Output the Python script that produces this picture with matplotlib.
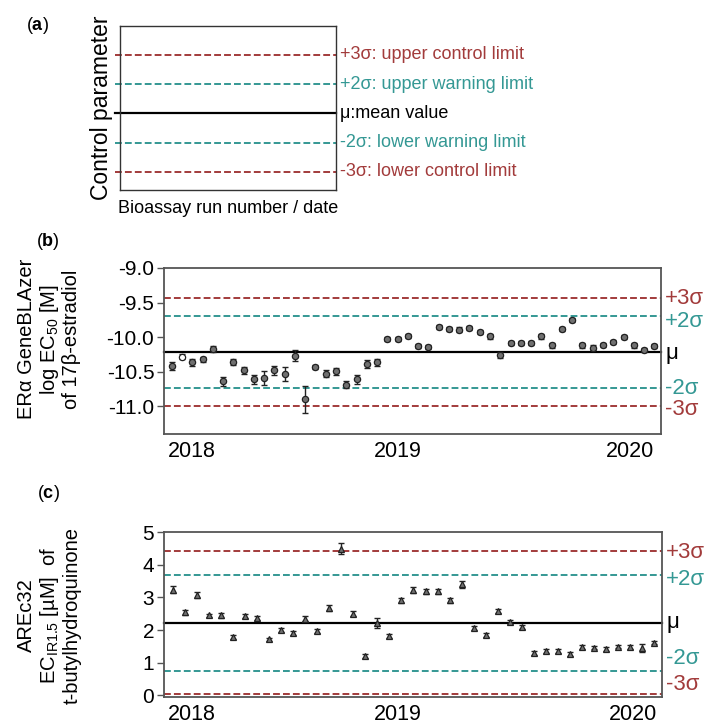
import matplotlib
matplotlib.use("Agg")
import matplotlib.pyplot as plt

plt.rcParams['font.family'] = ['Liberation Sans', 'DejaVu Sans']
plt.rcParams['mathtext.fontset'] = 'custom'
plt.rcParams['mathtext.rm'] = 'Liberation Sans'
plt.rcParams['mathtext.it'] = 'Liberation Sans:italic'
plt.rcParams['mathtext.bf'] = 'Liberation Sans:bold'

RED = '#a23b3b'
TEAL = '#349894'
FRAME = '#555555'

# control chart levels (in units of sigma) and their labels
levels = [3, 2, 0, -2, -3]
level_colors = [RED, TEAL, 'black', TEAL, RED]
# the schematic in (a) draws the five levels evenly spaced
a_levels = [2, 1, 0, -1, -2]
a_labels = ['+3σ: upper control limit', '+2σ: upper warning limit', 'μ:mean value',
            '-2σ: lower warning limit', '-3σ: lower control limit']
short_labels = ['+3σ', '+2σ', 'μ', '-2σ', '-3σ']

years = ['2018', '2019', '2020']

# (b) ERalpha GeneBLAzer, log EC50 of 17beta-estradiol per run
b_mean = -10.22
b_sigma = 0.26
b_vals = [-10.42, -10.28, -10.36, -10.32, -10.17, -10.64, -10.36, -10.48, -10.61, -10.59,
          -10.48, -10.53, -10.27, -10.90, -10.43, -10.53, -10.49, -10.69, -10.61, -10.39,
          -10.36, -10.03, -10.03, -9.98, -10.13, -10.14, -9.85, -9.88, -9.89, -9.87,
          -9.93, -9.99, -10.26, -10.09, -10.09, -10.08, -9.99, -10.12, -9.88, -9.75,
          -10.12, -10.15, -10.11, -10.07, -10.00, -10.12, -10.18, -10.13]
b_err = [0.06, 0.03, 0.05, 0.04, 0.04, 0.07, 0.04, 0.05, 0.06, 0.10,
         0.06, 0.10, 0.08, 0.19, 0.03, 0.05, 0.05, 0.05, 0.07, 0.06,
         0.05, 0.03, 0.03, 0.03, 0.03, 0.03, 0.03, 0.03, 0.03, 0.03,
         0.03, 0.03, 0.04, 0.03, 0.03, 0.03, 0.03, 0.03, 0.03, 0.03,
         0.03, 0.03, 0.03, 0.03, 0.03, 0.03, 0.03, 0.03]
b_open = [2]
b_year_pos = [3, 23, 45.6]

# (c) AREc32, EC_IR1.5 of t-butylhydroquinone per run
c_mean = 2.22
c_sigma = 0.73
c_vals = [3.24, 2.54, 3.07, 2.45, 2.45, 1.79, 2.42, 2.38, 1.71, 2.00,
          1.91, 2.35, 1.97, 2.68, 4.49, 2.50, 1.20, 2.22, 1.81, 2.91,
          3.22, 3.19, 3.19, 2.91, 3.40, 2.07, 1.84, 2.58, 2.25, 2.10,
          1.31, 1.36, 1.36, 1.28, 1.49, 1.46, 1.41, 1.49, 1.49, 1.44, 1.61]
c_err = [0.12, 0.08, 0.10, 0.05, 0.07, 0.06, 0.06, 0.06, 0.06, 0.07,
         0.06, 0.07, 0.07, 0.10, 0.16, 0.08, 0.07, 0.15, 0.06, 0.08,
         0.10, 0.08, 0.08, 0.08, 0.10, 0.06, 0.06, 0.07, 0.06, 0.06,
         0.06, 0.06, 0.06, 0.06, 0.06, 0.05, 0.06, 0.05, 0.06, 0.12, 0.05]
c_year_pos = [2.63, 19.68, 39.2]

W, H = 714, 726
fig = plt.figure(figsize=(W / 100, H / 100), dpi=100)


def box(x0, y0, x1, y1):
    # pixel box (top-left origin) -> figure axes
    return fig.add_axes([x0 / W, 1 - y1 / H, (x1 - x0) / W, (y1 - y0) / H])


def limit_lines(ax, mean, sd, lev, labels, fsize, offsets, left=0.0):
    for k, col, lab, dy in zip(lev, level_colors, labels, offsets):
        y = mean + k * sd
        if k == 0:
            ax.plot([left, 1], [y, y], color='black', lw=1.6,
                    transform=ax.get_yaxis_transform(), clip_on=False)
        else:
            ax.plot([left, 1], [y, y], color=col, lw=1.4, ls=(0, (3.5, 1.6)),
                    transform=ax.get_yaxis_transform(), clip_on=False)
        ax.annotate(lab, xy=(1, y), xycoords=('axes fraction', 'data'),
                    xytext=(3, dy), textcoords='offset points', ha='left', va='center',
                    color=col, fontsize=fsize, annotation_clip=False)


# ---- (a) schematic
ax_a = box(120, 26, 336, 190)
ax_a.set_xlim(0, 1)
ax_a.set_ylim(-2.62, 2.99)
ax_a.set_xticks([])
ax_a.set_yticks([])
for s in ax_a.spines.values():
    s.set_linewidth(1.0)
    s.set_color('#333333')
limit_lines(ax_a, 0, 1, a_levels, a_labels, 13, [0, 0, 0, 0, 0], left=-0.025)
ax_a.set_xlabel('Bioassay run number / date', fontsize=13, labelpad=7)
ax_a.set_ylabel('Control parameter', fontsize=16.5, labelpad=5)


def run_panel(ax, vals, err, marker, open_idx, ylim, yticks, ylabels, year_pos, xlim):
    x = list(range(1, len(vals) + 1))
    ax.errorbar(x, vals, yerr=err, fmt='none', ecolor='#222222', elinewidth=1.0,
                capsize=2.5, capthick=1.0, zorder=3)
    filled_x = [i for i in x if i not in open_idx]
    filled_y = [vals[i - 1] for i in filled_x]
    ax.plot(filled_x, filled_y, marker, ms=4.5, mfc='#707070', mec='#222222', mew=0.9,
            ls='none', zorder=4)
    if open_idx:
        ax.plot(open_idx, [vals[i - 1] for i in open_idx], marker, ms=4.5, mfc='white',
                mec='#222222', mew=0.9, ls='none', zorder=4)
    ax.set_xlim(*xlim)
    ax.set_ylim(*ylim)
    ax.set_yticks(yticks)
    ax.set_yticklabels(ylabels)
    ax.set_xticks(year_pos)
    ax.set_xticklabels(years)
    ax.tick_params(axis='y', direction='out', length=5, width=1.0, color=FRAME,
                   labelsize=15, pad=2)
    ax.tick_params(axis='x', length=0, labelsize=15.5, pad=5)
    for s in ax.spines.values():
        s.set_linewidth(1.3)
        s.set_color(FRAME)


# ---- (b)
ax_b = box(164, 268, 661, 434)
limit_lines(ax_b, b_mean, b_sigma, levels, short_labels, 16, [0, -4, -1, 0, -2])
run_panel(ax_b, b_vals, b_err, 'o', b_open, (-11.4, -9.0),
          [-9.0, -9.5, -10.0, -10.5, -11.0], ['-9.0', '-9.5', '-10.0', '-10.5', '-11.0'],
          b_year_pos, (0.25, 48.65))

# ---- (c)
ax_c = box(164, 532, 662, 697)
limit_lines(ax_c, c_mean, c_sigma, levels, short_labels, 16, [-1, -3, 0, 9, 7])
run_panel(ax_c, c_vals, c_err, '^', [], (-0.05, 5.0),
          [0, 1, 2, 3, 4, 5], ['0', '1', '2', '3', '4', '5'],
          c_year_pos, (0.28, 41.64))

# panel letters
fig.text(37 / W, 1 - 25 / H, r'($\mathbf{a}$)', ha='center', va='center', fontsize=13)
fig.text(48 / W, 1 - 242 / H, r'($\mathbf{b}$)', ha='center', va='center', fontsize=13)
fig.text(48 / W, 1 - 493 / H, r'($\mathbf{c}$)', ha='center', va='center', fontsize=13)

# multi-line y labels
fig.text(49 / W, 1 - 339 / H, 'ERα GeneBLAzer\nlog EC$_{50}$ [M]\nof 17β-estradiol',
         rotation=90, ha='center', va='center', multialignment='center',
         fontsize=14.5, linespacing=1.12)
fig.text(49 / W, 1 - 615 / H, 'AREc32\nEC$_{\\mathrm{IR1.5}}$ [µM]  of\nt-butylhydroquinone',
         rotation=90, ha='center', va='center', multialignment='center',
         fontsize=14.5, linespacing=1.12)

fig.savefig('out.png', dpi=100)
